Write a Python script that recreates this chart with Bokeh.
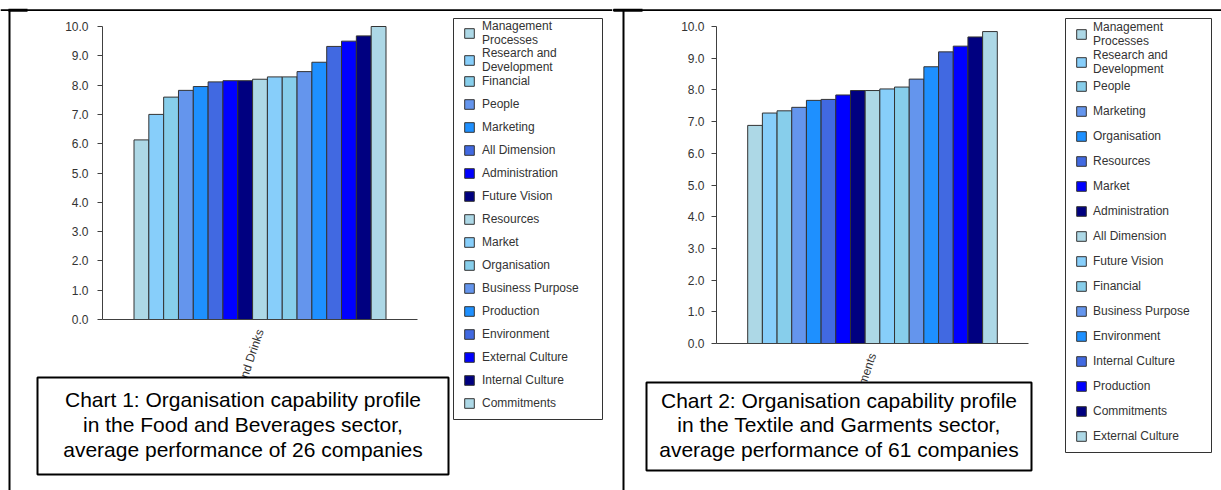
from bokeh.plotting import figure
from bokeh.layouts import row
from bokeh.models import (Range1d, Legend, LegendItem, Label, BoxAnnotation,
                          FixedTicker, NumeralTickFormatter, ColumnDataSource, LinearAxis)
from bokeh.embed import file_html
from bokeh.resources import INLINE

palette = ["#ADD8E6", "#87CEFA", "#87CEEB", "#6495ED", "#1E90FF", "#4169E1", "#0000FF", "#000080"]

y_ticks = [0, 1, 2, 3, 4, 5, 6, 7, 8, 9, 10]

sector1 = "Food and Drinks"
dims1 = ["Management\nProcesses", "Research and\nDevelopment", "Financial", "People", "Marketing",
         "All Dimension", "Administration", "Future Vision", "Resources", "Market", "Organisation",
         "Business Purpose", "Production", "Environment", "External Culture", "Internal Culture",
         "Commitments"]
vals1 = [6.13, 7.00, 7.59, 7.82, 7.95, 8.11, 8.15, 8.15, 8.20, 8.28, 8.28, 8.46, 8.78, 9.32, 9.50, 9.68, 10.0]
caption1 = ("Chart 1: Organisation capability profile\n"
            "in the Food and Beverages sector,\n"
            "average performance of 26 companies")

sector2 = "Textile and Garments"
dims2 = ["Management\nProcesses", "Research and\nDevelopment", "People", "Marketing", "Organisation",
         "Resources", "Market", "Administration", "All Dimension", "Future Vision", "Financial",
         "Business Purpose", "Environment", "Internal Culture", "Production", "Commitments",
         "External Culture"]
vals2 = [6.88, 7.27, 7.34, 7.45, 7.67, 7.70, 7.84, 7.98, 7.98, 8.03, 8.09, 8.34, 8.73, 9.20, 9.38, 9.67, 9.84]
caption2 = ("Chart 2: Organisation capability profile\n"
            "in the Textile and Garments sector,\n"
            "average performance of 61 companies")

FONT = "Liberation Sans"
H = 490
ROW_H1, ROW_H2 = 14, 28   # rendered heights of one-line / two-line legend rows


def make_panel(width, ax_l, ax_r, ax_t, ax_b, sector, dims, vals, caption, cap_box, leg_box,
               leg_x, leg_centers, leg_spacing, leg_standoff, vline_x, thick_seg, y_standoff):
    # pixel layout -> data ranges (frame covers whole canvas; axes fixed inside)
    xs = (ax_r - ax_l) / 1.0
    ys = (ax_b - ax_t) / 10.0
    x_range = Range1d(-ax_l / xs, (width - ax_l) / xs)
    y_range = Range1d(-(H - ax_b) / ys, 10 + ax_t / ys)
    p = figure(width=width, height=H, x_range=x_range, y_range=y_range,
               output_backend="svg", toolbar_location=None, x_axis_type=None, y_axis_type=None,
               min_border=0)
    p.outline_line_color = None
    p.grid.grid_line_color = None
    p.background_fill_color = "white"
    p.border_fill_color = "white"

    def sy(cy):
        return H - cy

    def box(x0, y0, x1, y1, **kw):
        p.add_layout(BoxAnnotation(left=x0, right=x1, top=sy(y0), bottom=sy(y1),
                                   left_units="screen", right_units="screen",
                                   top_units="screen", bottom_units="screen", **kw))

    # panel frame lines
    box(0, 8.8, width, 10.4, fill_color="black", fill_alpha=1, line_color=None)
    box(thick_seg[0], 8.2, thick_seg[1], 11.2, fill_color="black", fill_alpha=1, line_color=None)
    box(vline_x, 9, vline_x + 2, H, fill_color="black", fill_alpha=1, line_color=None)

    n = len(vals)
    w = 0.8 / n
    renderers = []
    for i, (d, v) in enumerate(zip(dims, vals)):
        src = ColumnDataSource(dict(x=[0.1 + w * (i + 0.5)], top=[v]))
        r = p.vbar(x="x", top="top", bottom=0, width=w, source=src,
                   fill_color=palette[i % len(palette)], line_color="#333333", line_width=1)
        renderers.append(r)

    yax = LinearAxis(ticker=FixedTicker(ticks=y_ticks), formatter=NumeralTickFormatter(format="0.0"),
                     fixed_location=0, bounds=(0, 10))
    yax.minor_tick_line_color = None
    yax.major_tick_in = 0
    yax.major_tick_out = 5
    yax.major_label_standoff = y_standoff
    yax.major_tick_line_color = "#404040"
    xax = LinearAxis(ticker=FixedTicker(ticks=[0.5]), major_label_overrides={0.5: sector},
                     fixed_location=0, bounds=(0, 1))
    xax.major_tick_line_color = None
    xax.minor_tick_line_color = None
    xax.major_label_orientation = 1.25
    xax.major_label_standoff = 4
    for ax in (yax, xax):
        ax.axis_line_color = "#404040"
        ax.major_label_text_font = FONT
        ax.major_label_text_font_size = "12px"
        ax.major_label_text_color = "#333333"
    p.add_layout(yax, "left")
    p.add_layout(xax, "below")

    # legend border
    lx0, ly0, lx1, ly1 = leg_box
    box(lx0, ly0, lx1, ly1, fill_color="white", fill_alpha=1, line_color="#333333",
        line_alpha=1, line_width=1)

    items = [LegendItem(label=d, renderers=[r]) for d, r in zip(dims, renderers)]
    # legend split in three stacked blocks so the two-line rows keep the reference pitch
    groups = [(0, 1), (1, 2), (2, n)]
    for (a, b), c in zip(groups, leg_centers):
        heights = [ROW_H2 if "\n" in dims[k] else ROW_H1 for k in range(a, b)]
        top = c - heights[0] / 2
        bottom = top + sum(heights) + leg_spacing * (len(heights) - 1)
        leg = Legend(items=items[a:b], location=(leg_x, sy(bottom)),
                     orientation="vertical", border_line_color=None, background_fill_alpha=0,
                     padding=0, margin=0, spacing=leg_spacing, glyph_width=12, glyph_height=12,
                     label_height=12, label_standoff=leg_standoff, label_text_font=FONT,
                     label_text_font_size="12px", label_text_color="#333333")
        p.add_layout(leg)

    # caption
    cx0, cy0, cx1, cy1 = cap_box
    box(cx0, cy0, cx1, cy1, fill_color="white", fill_alpha=1, line_color="black",
        line_alpha=1, line_width=2)
    p.add_layout(Label(x=(cx0 + cx1) / 2, y=sy((cy0 + cy1) / 2 - 1.5), x_units="screen", y_units="screen",
                       text=caption, text_align="center", text_baseline="middle",
                       text_font=FONT, text_font_size="21px", text_color="black",
                       text_line_height=1.08))
    return p


p1 = make_panel(612, 102, 417, 26, 319, sector1, dims1, vals1, caption1,
                (37, 377, 448, 474), (453, 18, 602, 419), 463, (32.5, 60.3, 81), 9, 7,
                8, (8, 27), 9)
p2 = make_panel(609, 104, 416, 26, 343, sector2, dims2, vals2, caption2,
                (646 - 612, 382, 1031 - 612, 470), (1065 - 612, 18, 1211 - 612, 452),
                1075 - 612, (33.5, 61.5, 86), 11, 6, 622 - 612, (1, 30), 7)

p = row(p1, p2, spacing=0)
open("out.html", "w").write(file_html(p, INLINE))
